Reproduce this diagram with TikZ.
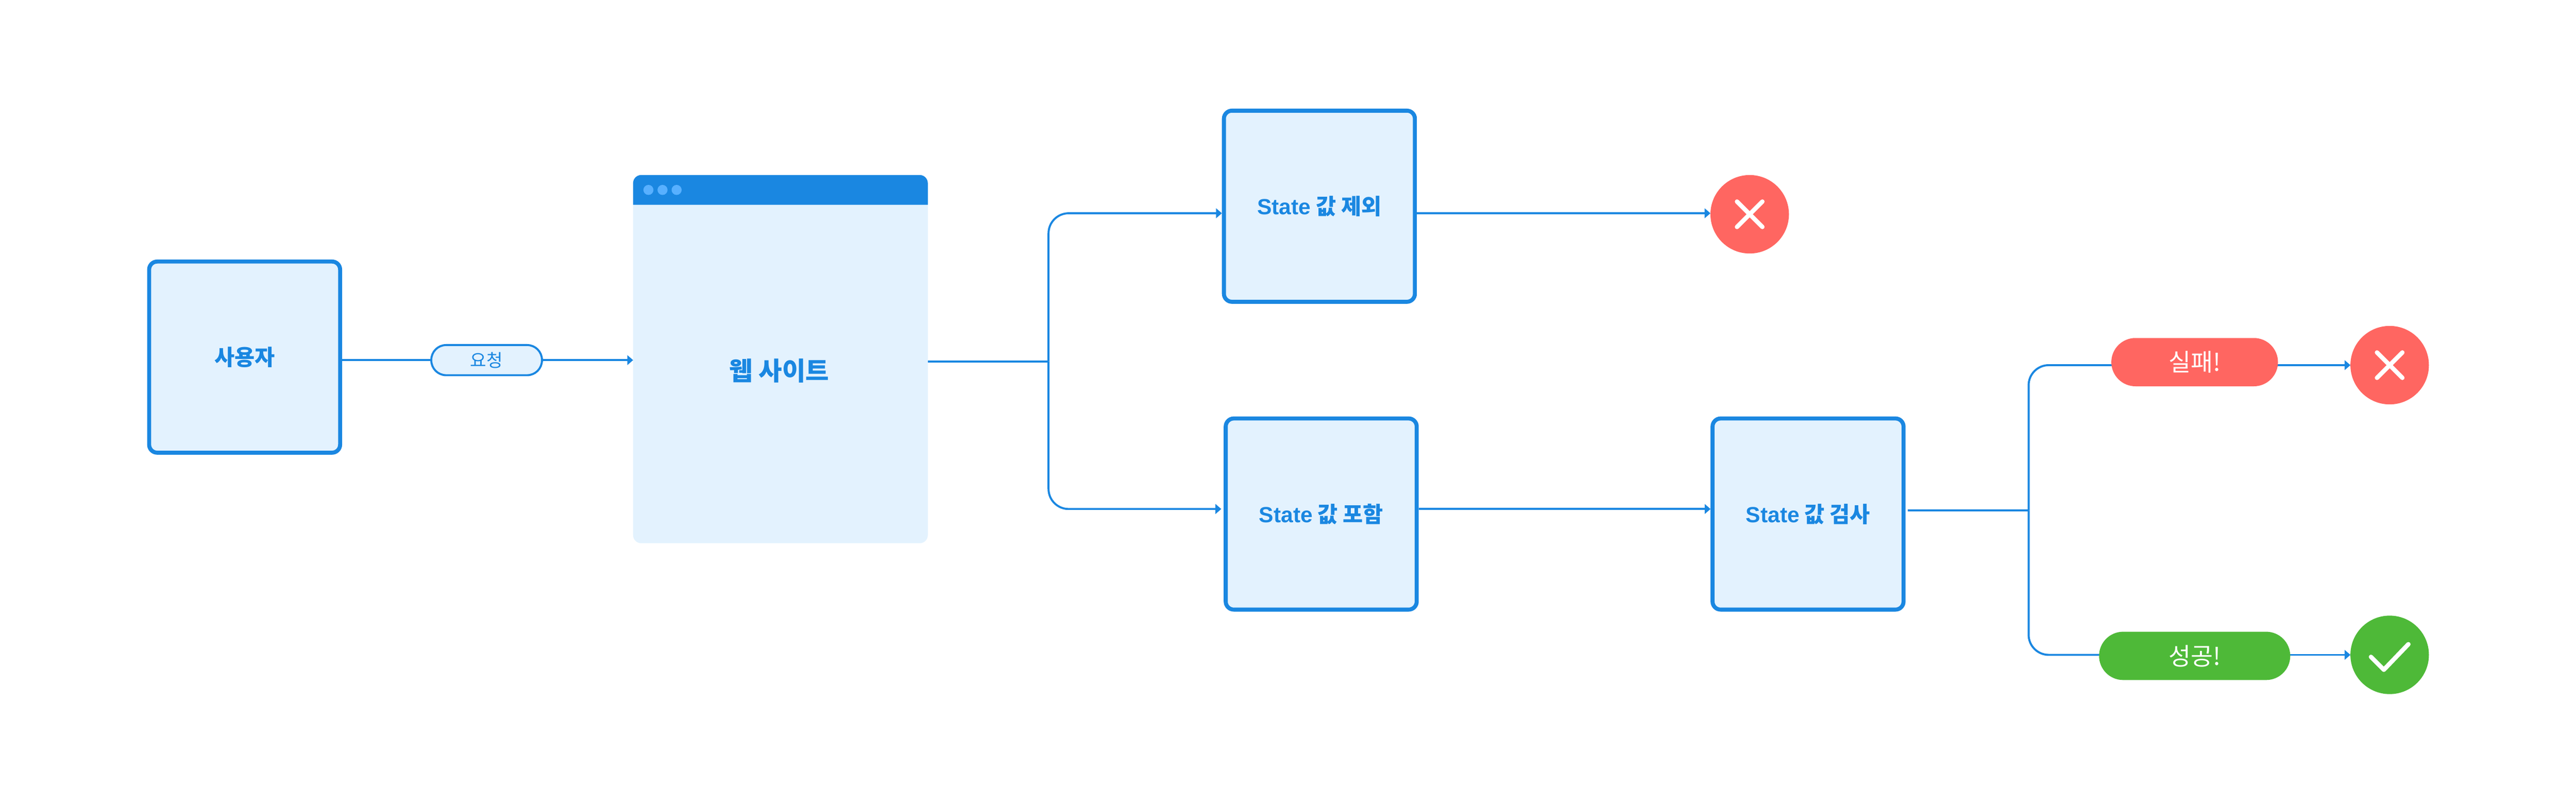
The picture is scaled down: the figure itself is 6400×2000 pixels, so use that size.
\documentclass[tikz,border=0pt]{standalone}
\usepackage{fontspec}
\setmainfont{Noto Sans CJK KR}
\newfontfamily\latb{Liberation Sans}
\usetikzlibrary{arrows.meta}
\definecolor{blu}{HTML}{1A87E1}
\definecolor{pale}{HTML}{E3F2FE}
\definecolor{dotc}{HTML}{58B0FF}
\definecolor{redc}{HTML}{FF6661}
\definecolor{grn}{HTML}{4EB938}
\newcommand{\fs}[1]{\fontsize{#1}{#1}\selectfont}
\newcommand{\st}[1]{{\latb\bfseries State} #1}
\tikzset{
  x=1pt,y=-1pt,
  boxn/.style={draw=blu,fill=pale,line width=10pt,rounded corners=20pt,minimum width=474.5pt,minimum height=475pt,inner sep=0pt,text=blu,font=\fs{54.5}\bfseries},
  conn/.style={draw=blu,line width=5pt},
  arr/.style={conn,-{Triangle[length=14.5pt,width=24pt]}},
  elbow/.style={conn,rounded corners=50pt},
  tagn/.style={fill=#1,rounded corners=60pt,minimum height=120pt,inner sep=0pt,text=white,font=\fs{60},outer sep=0pt},
  disc/.style={circle,fill=#1,minimum size=195pt,inner sep=0pt,outer sep=0pt},
  markline/.style={draw=white,line width=11pt,line cap=round,line join=round},
  dotn/.style={circle,fill=dotc,minimum size=25pt,inner sep=0pt,outer sep=0pt},
}
\begin{document}
\begin{tikzpicture}
\path[fill=white,use as bounding box] (0,0) rectangle (6400,2000);

\coordinate (j1) at (2605,898);
\coordinate (j2) at (5040,1269);
\coordinate (row1) at (0,530);
\coordinate (row2) at (0,1265);
\coordinate (hbl) at (1573,509);
\coordinate (hbr) at (2305,509);

\node[boxn] (user) at (607.75,887.5) {사용자};
\node[fill=pale,rounded corners=20pt,minimum width=732pt,minimum height=915pt,inner sep=0pt,outer sep=0pt] (win) at (1939,892.5) {};
\fill[blu] (hbl) [rounded corners=20pt] -- (win.north west) -- (win.north east) [sharp corners] -- (hbr) -- cycle;
\node[dotn] (d1) at (1611,472) {};
\node[dotn] (d2) at (1646,472) {};
\node[dotn] (d3) at (1681,472) {};
\node[text=blu,font=\fs{63.5}\bfseries,inner sep=0pt] (winlabel) at (1936,922) {웹 사이트};
\node[boxn] (ex) at (3278,512.5) {\st{값 제외}};
\node[boxn] (inc) at (3282.5,1277.5) {\st{값 포함}};
\node[boxn] (chk) at (4492,1277.5) {\st{값 검사}};
\node[disc=redc] (xa) at (4347,532.5) {};
\node[disc=redc] (xb) at (5937,907.5) {};
\node[disc=grn] (ok) at (5937,1627.5) {};
\coordinate (failw) at (5245.5,907.5);
\coordinate (succw) at (5214.7,1627.5);

% connectors
\draw[arr] (user.east |- 0,895) -- (win.west |- 0,895);
\draw[conn] (win.east |- j1) -- (j1);
\draw[arr,rounded corners=50pt] (j1) |- (ex.west |- row1);
\draw[arr,rounded corners=50pt,shorten >=6pt] (j1) |- (inc.west |- row2);
\draw[arr] (ex.east |- row1) -- (xa.west |- row1);
\draw[arr] (inc.east |- row2) -- (chk.west |- row2);
\draw[conn,shorten <=5pt] (chk.east |- j2) -- (j2);
\draw[elbow] (j2) |- (failw);
\draw[elbow] (j2) |- (succw);
\draw[arr] (failw) -- (xb.west);
\draw[arr] (succw) -- (ok.west);

% labels on the connectors
\node[draw=blu,fill=pale,line width=5pt,rounded corners=37pt,minimum width=275pt,minimum height=75pt,inner sep=0pt,text=blu,font=\fs{44}] (req) at (1209,895) {요청};
\node[tagn=redc,minimum width=414pt] (fail) at (5452.5,900) {실패!};
\node[tagn=grn,minimum width=475pt] (succ) at (5452.5,1630) {성공!};

% marks
\draw[markline] ([shift={(-31.5,-31.5)}]xa.center) -- ([shift={(31.5,31.5)}]xa.center);
\draw[markline] ([shift={(31.5,-31.5)}]xa.center) -- ([shift={(-31.5,31.5)}]xa.center);
\draw[markline] ([shift={(-31.5,-31.5)}]xb.center) -- ([shift={(31.5,31.5)}]xb.center);
\draw[markline] ([shift={(31.5,-31.5)}]xb.center) -- ([shift={(-31.5,31.5)}]xb.center);
\draw[markline] ([shift={(-46.5,5)}]ok.center) -- ([shift={(-14.5,37)}]ok.center) -- ([shift={(46.5,-26.5)}]ok.center);
\end{tikzpicture}
\end{document}
